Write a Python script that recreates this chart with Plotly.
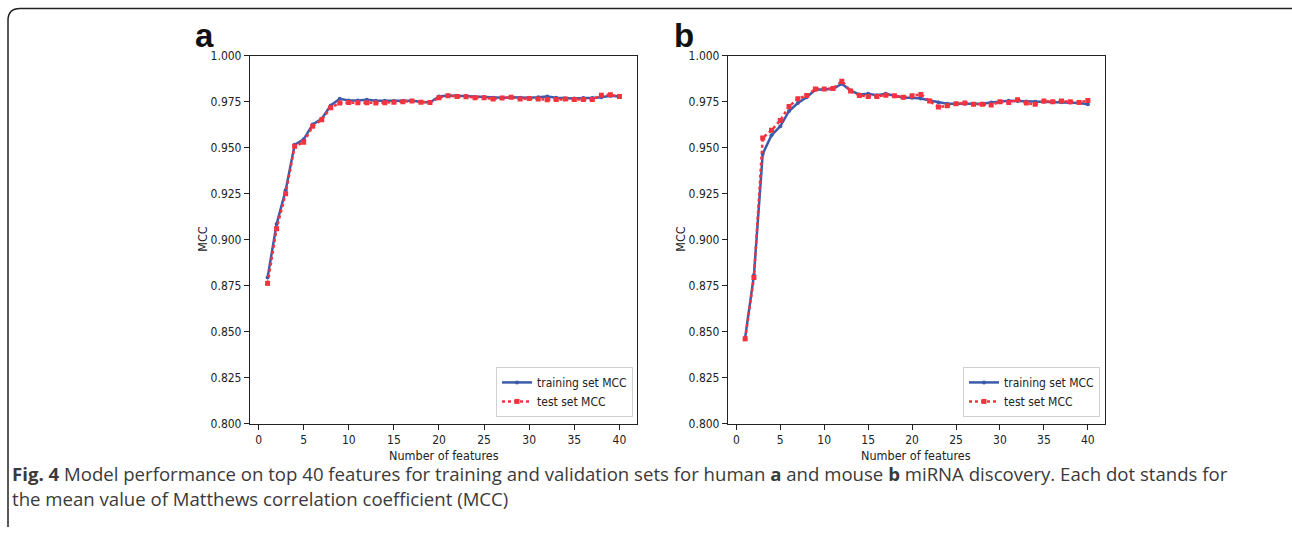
import plotly.graph_objects as go

W, H = 1292, 534

n_features = list(range(1, 41))

human_train = [0.8795, 0.9085, 0.9268, 0.9516, 0.9545, 0.9626, 0.9657, 0.9729, 0.9765, 0.9756,
               0.9756, 0.9760, 0.9755, 0.9755, 0.9753, 0.9753, 0.9755, 0.9749, 0.9745, 0.9778,
               0.9783, 0.9782, 0.9780, 0.9774, 0.9773, 0.9771, 0.9771, 0.9773, 0.9771, 0.9771,
               0.9773, 0.9778, 0.9771, 0.9767, 0.9767, 0.9769, 0.9769, 0.9774, 0.9782, 0.9778]
human_test = [0.8763, 0.9060, 0.9250, 0.9507, 0.9529, 0.9616, 0.9652, 0.9717, 0.9742, 0.9745,
              0.9744, 0.9744, 0.9742, 0.9744, 0.9747, 0.9749, 0.9753, 0.9747, 0.9745, 0.9771,
              0.9782, 0.9778, 0.9776, 0.9771, 0.9771, 0.9764, 0.9769, 0.9773, 0.9764, 0.9767,
              0.9764, 0.9760, 0.9762, 0.9764, 0.9762, 0.9762, 0.9762, 0.9785, 0.9787, 0.9778]
mouse_train = [0.8467, 0.8807, 0.9466, 0.9567, 0.9616, 0.9699, 0.9742, 0.9774, 0.9814, 0.9818,
               0.9818, 0.9847, 0.9810, 0.9789, 0.9792, 0.9785, 0.9792, 0.9782, 0.9771, 0.9771,
               0.9767, 0.9756, 0.9745, 0.9738, 0.9738, 0.9738, 0.9735, 0.9738, 0.9745, 0.9749,
               0.9755, 0.9753, 0.9751, 0.9749, 0.9749, 0.9749, 0.9747, 0.9745, 0.9742, 0.9735]
mouse_test = [0.8462, 0.8795, 0.9553, 0.9594, 0.9648, 0.9724, 0.9765, 0.9783, 0.9819, 0.9818,
              0.9821, 0.9861, 0.9807, 0.9783, 0.9778, 0.9778, 0.9785, 0.9782, 0.9774, 0.9782,
              0.9789, 0.9753, 0.9720, 0.9727, 0.9738, 0.9742, 0.9735, 0.9735, 0.9731, 0.9749,
              0.9745, 0.9760, 0.9742, 0.9735, 0.9753, 0.9749, 0.9753, 0.9749, 0.9745, 0.9756]

y_ticks = [0.800, 0.825, 0.850, 0.875, 0.900, 0.925, 0.950, 0.975, 1.000]
x_ticks = [0, 5, 10, 15, 20, 25, 30, 35, 40]

train_name = "training set MCC"
test_name = "test set MCC"
BLUE = "#3d5bab"
RED = "#f5333f"

NARROW = "DejaVu Sans Condensed, Liberation Sans Narrow, DejaVu Sans"
TICKFONT = dict(family=NARROW, size=12, color="#222")

# observed vertical mapping of the capture: y_shown = 6.5 + 0.9728 * y_layout
Y_OFF, Y_SCL = 6.5, 0.9728


def px(x):
    return x / W


def py(y):
    ys = (y - Y_OFF) / Y_SCL
    return 1 - ys / H


fig = go.Figure()

for xa, ya, lg, tr, te in [("x", "y", "legend", human_train, human_test),
                           ("x2", "y2", "legend2", mouse_train, mouse_test)]:
    fig.add_trace(go.Scatter(
        x=n_features, y=tr, name=train_name, mode="lines+markers",
        line=dict(color=BLUE, width=2.5), marker=dict(color=BLUE, size=4, symbol="circle"),
        xaxis=xa, yaxis=ya, legend=lg))
    fig.add_trace(go.Scatter(
        x=n_features, y=te, name=test_name, mode="lines+markers",
        line=dict(color=RED, width=2.5, dash="dot"), marker=dict(color=RED, size=5, symbol="square"),
        xaxis=xa, yaxis=ya, legend=lg))

axis_common = dict(showline=True, linecolor="#222", linewidth=1.2, mirror=True,
                   ticks="outside", ticklen=5, tickcolor="#222", tickwidth=1,
                   showgrid=False, zeroline=False, tickfont=TICKFONT)

plot_top, plot_bot = 55, 423
a_l, a_r = 250, 637
b_l, b_r = 728, 1105

legend_font = dict(family=NARROW, size=12, color="#222")

fig.update_layout(
    width=W, height=H,
    margin=dict(l=0, r=0, t=0, b=0),
    paper_bgcolor="white", plot_bgcolor="white",
    xaxis=dict(domain=[px(a_l), px(a_r)], range=[-0.95, 41.95], tickvals=x_ticks, anchor="y", **axis_common),
    yaxis=dict(domain=[py(plot_bot), py(plot_top)], range=[0.8, 1.0], tickvals=y_ticks,
               tickformat=".3f", anchor="x", **axis_common),
    xaxis2=dict(domain=[px(b_l), px(b_r)], range=[-0.95, 41.95], tickvals=x_ticks, anchor="y2", **axis_common),
    yaxis2=dict(domain=[py(plot_bot), py(plot_top)], range=[0.8, 1.0], tickvals=y_ticks,
                tickformat=".3f", anchor="x2", **axis_common),
    legend=dict(x=px(633), y=py(416), xanchor="right", yanchor="bottom",
                bgcolor="white", bordercolor="#d0d0d0", borderwidth=1,
                font=legend_font, itemwidth=30, tracegroupgap=0),
    legend2=dict(x=px(1100), y=py(416), xanchor="right", yanchor="bottom",
                 bgcolor="white", bordercolor="#d0d0d0", borderwidth=1,
                 font=legend_font, itemwidth=30, tracegroupgap=0),
    showlegend=True,
)

ann_font = dict(family=NARROW, size=12.5, color="#222")
cap_font = dict(family="Open Sans, Noto Sans", size=18.6, color="#3a3a3a")
label_font = dict(family="Liberation Sans, Arial", size=33, color="#111")
annotations = [
    dict(text="<b>a</b>", x=px(204), y=py(35), font=label_font),
    dict(text="<b>b</b>", x=px(684), y=py(35), font=label_font),
    dict(text="MCC", x=px(203), y=py(238), textangle=-90, font=ann_font),
    dict(text="MCC", x=px(681), y=py(238), textangle=-90, font=ann_font),
    dict(text="Number of features", x=px(444), y=py(455), font=ann_font),
    dict(text="Number of features", x=px(916), y=py(455), font=ann_font),
    dict(text="<b>Fig. 4</b> Model performance on top 40 features for training and validation sets for human "
              "<b>a</b> and mouse <b>b</b> miRNA discovery. Each dot stands for",
         x=px(10), y=py(473), xanchor="left", font=cap_font),
    dict(text="the mean value of Matthews correlation coefficient (MCC)",
         x=px(10), y=py(498), xanchor="left", font=cap_font),
]
for a in annotations:
    a.setdefault("xanchor", "center")
    a.update(xref="paper", yref="paper", yanchor="middle", showarrow=False)
fig.update_layout(annotations=annotations)

fig.add_shape(type="path", xref="paper", yref="paper",
              path=f"M {px(8)},0 L {px(8)},{py(20)} Q {px(8)},{py(8)} {px(20)},{py(8)} L {px(1292)},{py(8)}",
              line=dict(color="#222", width=1.5))

post = ("document.documentElement.style.margin='0';document.documentElement.style.overflow='hidden';"
        "document.body.style.margin='0';document.body.style.overflow='hidden';"
        "var d=document.getElementById('{plot_id}');d.style.position='fixed';d.style.top='0px';d.style.left='0px';")
fig.write_html("out.html", config={"displayModeBar": False}, post_script=post)
